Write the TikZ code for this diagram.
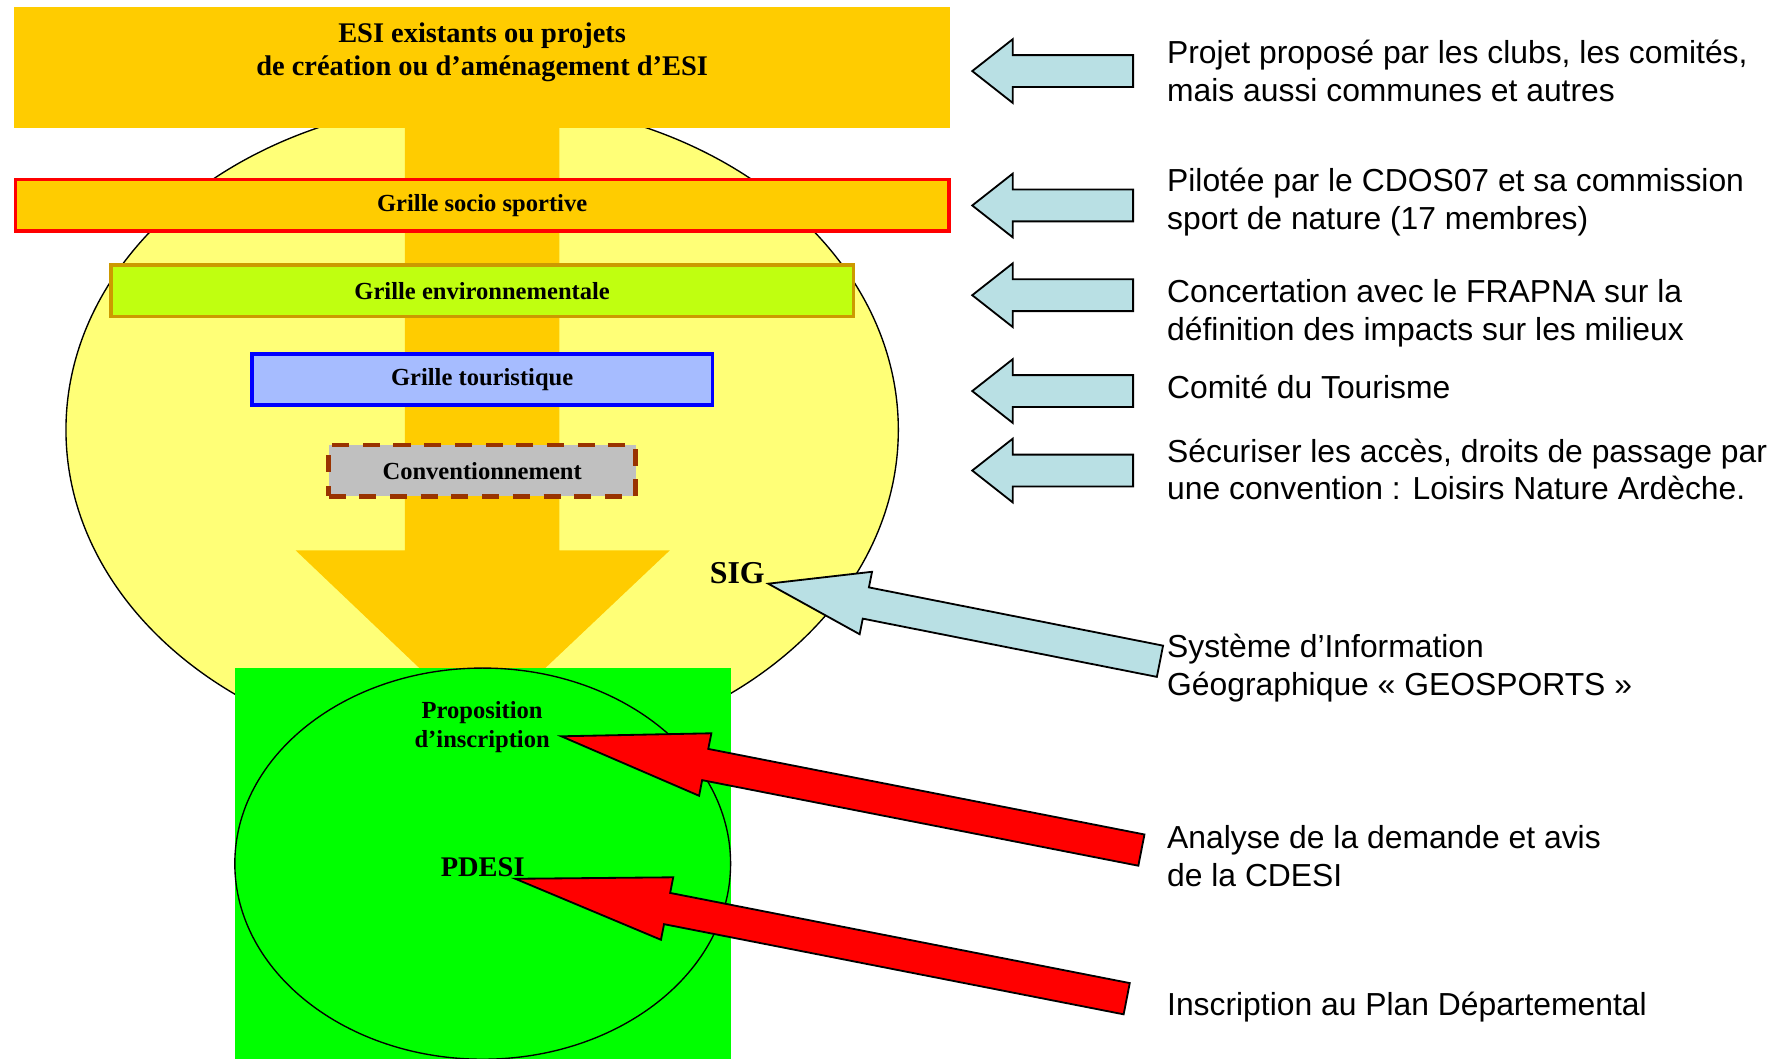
\documentclass[tikz,border=0pt]{standalone}
\usepackage{fontspec}
\setmainfont{Liberation Serif}
\setsansfont{Liberation Sans}
\usetikzlibrary{shapes.geometric,positioning}

\definecolor{esiorange}{RGB}{255,204,0}
\definecolor{zoneyellow}{RGB}{255,255,119}
\definecolor{limegrille}{RGB}{192,255,16}
\definecolor{goldborder}{RGB}{204,153,0}
\definecolor{touristblue}{RGB}{166,188,255}
\definecolor{convgray}{RGB}{192,192,192}
\definecolor{convborder}{RGB}{153,51,0}
\definecolor{paleblue}{RGB}{185,224,228}
\definecolor{pdesigreen}{RGB}{0,255,0}

% block arrow: style, tip, angle, length, head length
\newcommand{\blockarrow}[5]{%
  \filldraw[#1, shift={(#2)}, rotate=#3]
    (0,0) -- (#5,28) -- (#5,14) -- (#4,14) -- (#4,-14) -- (#5,-14) -- (#5,-28) -- cycle;}

\begin{document}
\begin{tikzpicture}[x=0.5pt, y=-0.5pt,
    flat/.style = {inner sep=0pt, outer sep=0pt},
    grille/.style = {draw, line width=1.5pt, minimum height=22.5pt, font=\fontsize{10.8pt}{13pt}\selectfont\bfseries},
    note/.style = {anchor=base west, inner sep=0pt, align=left, font=\sffamily\fontsize{14pt}{16.7pt}\selectfont},
    blue arrow/.style = {fill=paleblue, draw=black, line width=0.8pt},
    red arrow/.style = {fill=red, draw=black, line width=0.8pt}]
    \useasboundingbox (0,0) rectangle (1568,931.3);

    % zone and flow
    \node[flat, ellipse, draw, line width=0.6pt, fill=zoneyellow, minimum width=366pt, minimum height=289pt] (zone) at (424,378) {};
    \node[flat, fill=esiorange, minimum width=411.5pt, minimum height=53.5pt] (esi) at (423.5,59.5) {};
    \node[anchor=base, align=center, font=\fontsize{12.5pt}{14.1pt}\selectfont\bfseries] (esititle) at (424,66) {ESI existants ou projets\\de création ou d’aménagement d’ESI};
    \fill[esiorange] (356,100) -- (492,100) -- (492,484) -- (589,484) -- (424,640) -- (260,484) -- (356,484) -- cycle;

    % grilles
    \node[grille, draw=red, fill=esiorange, minimum width=410.5pt] (socio) at (424,180.5) {Grille socio sportive};
    \node[grille, draw=goldborder, fill=limegrille, minimum width=326.5pt, below=13.6pt of socio] (env) {Grille environnementale};
    \node[grille, draw=blue, fill=touristblue, minimum width=202.5pt, below=15pt of env] (tour) {Grille touristique};
    \node[grille, draw=convborder, fill=convgray, line width=2pt, dash pattern=on 7.5pt off 6pt, minimum width=135pt, below=15.9pt of tour] (conv) {Conventionnement};

    % PDESI
    \node[flat, fill=pdesigreen, minimum width=218pt, minimum height=172pt] (pdesiarea) at (424.5,759.5) {};
    \node[flat, ellipse, draw, line width=0.6pt, minimum width=218pt, minimum height=172pt] (pdesizone) at (424.5,759.5) {};
    \node[anchor=base, align=center, font=\fontsize{10.8pt}{12.5pt}\selectfont\bfseries] (prop) at (424,657.2) {Proposition\\d’inscription};
    \node[anchor=base, font=\fontsize{12.5pt}{15pt}\selectfont\bfseries] (pdesi) at (424.5,770.7) {PDESI};
    \node[anchor=base, font=\fontsize{14pt}{16pt}\selectfont\bfseries] (sig) at (648.4,513.3) {SIG};

    % notes
    \node[note] (projet) at (1026,89.3) {Projet proposé par les clubs, les comités,\\mais aussi communes et autres};
    \node[note] (pilote) at (1026,201.4) {Pilotée par le CDOS07 et sa commission\\sport de nature (17 membres)};
    \node[note] (frapna) at (1026,299.8) {Concertation avec le FRAPNA sur la\\définition des impacts sur les milieux};
    \node[note] (tourisme) at (1026,350.7) {Comité du Tourisme};
    \node[note] (acces) at (1026,439.7) {Sécuriser les accès, droits de passage par\\une convention : Loisirs Nature Ardèche.};
    \node[note] (geo) at (1026,611.2) {Système d’Information\\Géographique « GEOSPORTS »};
    \node[note] (cdesi) at (1026,779.7) {Analyse de la demande et avis\\de la CDESI};
    \node[note] (plan) at (1026,892.6) {Inscription au Plan Départemental};

    % arrows
    \coordinate (tip1) at (855,62.5);
    \coordinate (tip2) at (855,180.7);
    \coordinate (tip3) at (855,259.6);
    \coordinate (tip4) at (855,343.9);
    \coordinate (tip5) at (855,413.8);
    \coordinate (sigtip) at (675.6,513.3);
    \coordinate (proptip) at (493.6,647.5);
    \coordinate (pdesitip) at (453.2,772.8);
    \blockarrow{blue arrow}{tip1}{0}{141.5}{35.6}
    \blockarrow{blue arrow}{tip2}{0}{141.5}{35.6}
    \blockarrow{blue arrow}{tip3}{0}{141.5}{35.6}
    \blockarrow{blue arrow}{tip4}{0}{141.5}{35.6}
    \blockarrow{blue arrow}{tip5}{0}{141.5}{35.6}
    \blockarrow{blue arrow}{sigtip}{-11.2}{351.2}{87.5}
    \blockarrow{red arrow}{proptip}{-11.1}{519.9}{129}
    \blockarrow{red arrow}{pdesitip}{-11.1}{547.9}{136}
\end{tikzpicture}
\end{document}
